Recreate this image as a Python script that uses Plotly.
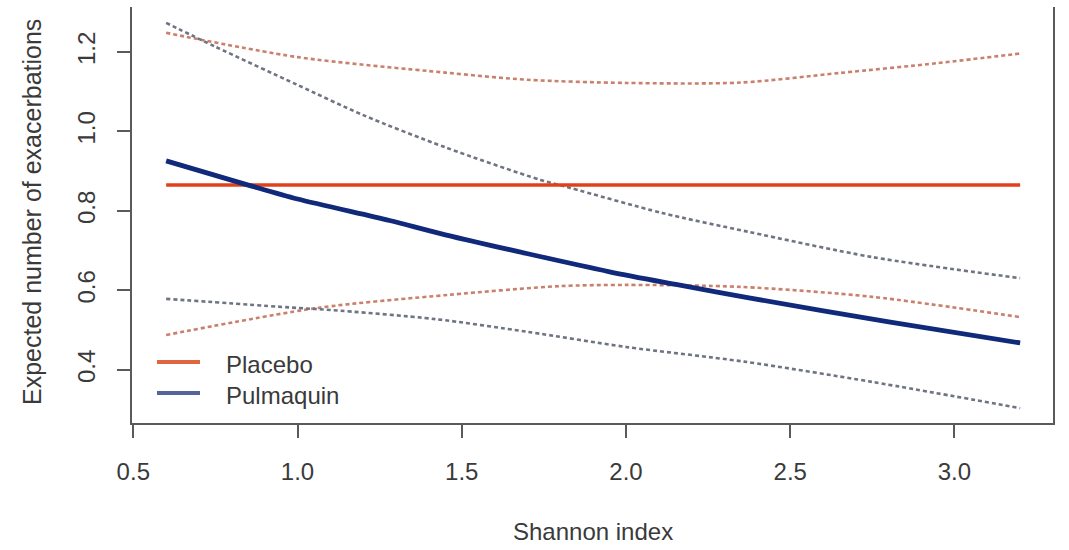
import plotly.graph_objects as go

# Fitted expected exacerbations vs Shannon diversity index, with confidence bands
placebo_x = [0.6, 3.2]
placebo_fit = [0.865, 0.865]

placebo_upper_x = [0.6, 1.0, 1.45, 1.7, 2.0, 2.35, 2.65, 2.95, 3.2]
placebo_upper = [1.248, 1.187, 1.148, 1.13, 1.122, 1.123, 1.147, 1.172, 1.196]

placebo_lower_x = [0.6, 1.06, 1.46, 1.8, 2.0, 2.35, 2.75, 3.2]
placebo_lower = [0.488, 0.556, 0.589, 0.611, 0.614, 0.609, 0.584, 0.533]

pulmaquin_x = [0.6, 0.85, 1.0, 1.28, 1.45, 1.95, 2.16, 2.37, 2.8, 3.2]
pulmaquin_fit = [0.926, 0.865, 0.83, 0.776, 0.74, 0.647, 0.614, 0.582, 0.521, 0.468]

pulmaquin_upper_x = [0.6, 0.75, 1.0, 1.2, 1.45, 1.74, 1.83, 2.11, 2.37, 2.75, 3.2]
pulmaquin_upper = [1.273, 1.213, 1.117, 1.041, 0.96, 0.878, 0.858, 0.795, 0.748, 0.684, 0.631]

pulmaquin_lower_x = [0.6, 1.0, 1.1, 1.42, 1.7, 2.0, 2.36, 2.75, 3.2]
pulmaquin_lower = [0.579, 0.556, 0.551, 0.528, 0.496, 0.458, 0.421, 0.37, 0.304]

x_ticks = [0.5, 1.0, 1.5, 2.0, 2.5, 3.0]
y_ticks = [0.4, 0.6, 0.8, 1.0, 1.2]

FONT = "Liberation Sans, Arial, sans-serif"
TEXT = "#3a3a3a"
AXIS = "#5a5a5a"
RED = "#E2401C"
NAVY = "#10297A"
RED_DASH = "#C9806C"
GRAY_DASH = "#6E7482"

fig = go.Figure()

def dashed(x, y, color):
    fig.add_trace(go.Scatter(
        x=x, y=y, mode="lines", showlegend=False, hoverinfo="skip",
        line=dict(color=color, width=2.6, dash="4px,3px", shape="spline", smoothing=0.8),
    ))

dashed(placebo_upper_x, placebo_upper, RED_DASH)
dashed(placebo_lower_x, placebo_lower, RED_DASH)
dashed(pulmaquin_upper_x, pulmaquin_upper, GRAY_DASH)
dashed(pulmaquin_lower_x, pulmaquin_lower, GRAY_DASH)

fig.add_trace(go.Scatter(
    x=placebo_x, y=placebo_fit, mode="lines", name="Placebo", showlegend=False,
    line=dict(color=RED, width=3.5),
))
fig.add_trace(go.Scatter(
    x=pulmaquin_x, y=pulmaquin_fit, mode="lines", name="Pulmaquin", showlegend=False,
    line=dict(color=NAVY, width=4.8, shape="spline", smoothing=0.8),
))

L, R, T, B = 132, 16, 7, 127
W, H = 1069, 550
pw, ph = W - L - R, H - T - B

def px(xp):
    return (xp - L) / pw

def py(yp):
    return (H - B - yp) / ph

# Legend drawn in the lower-left corner
legend_items = [("Placebo", "#E0663F", 362), ("Pulmaquin", "#55659C", 393)]
for label, color, yp in legend_items:
    fig.add_shape(type="line", xref="paper", yref="paper",
                  x0=px(157), x1=px(200), y0=py(yp), y1=py(yp),
                  line=dict(color=color, width=4))
    fig.add_annotation(text=label, xref="paper", yref="paper",
                       x=px(224), y=py(yp + 2), xanchor="left", yanchor="middle",
                       showarrow=False, font=dict(family=FONT, size=24, color=TEXT))

# Axis titles
fig.add_annotation(text="Shannon index", xref="paper", yref="paper",
                   x=px(593), y=py(531), xanchor="center", yanchor="middle",
                   showarrow=False, font=dict(family=FONT, size=24, color=TEXT))
fig.add_annotation(text="Expected number of exacerbations", xref="paper", yref="paper",
                   x=px(32), y=py(212), xanchor="center", yanchor="middle", textangle=-90,
                   showarrow=False, font=dict(family=FONT, size=25, color=TEXT))

fig.update_layout(
    width=W, height=H,
    margin=dict(l=L, r=R, t=T, b=B),
    paper_bgcolor="white", plot_bgcolor="white",
    font=dict(family=FONT, size=24, color=TEXT),
    xaxis=dict(range=[0.496, 3.30], tickvals=x_ticks, ticktext=[f"{v:.1f}" for v in x_ticks],
               showgrid=False, zeroline=False, showline=True, linecolor=AXIS, linewidth=2,
               ticks="outside", ticklen=13, tickwidth=2, tickcolor=AXIS,
               ticklabelstandoff=13, tickfont=dict(size=24, color=TEXT)),
    yaxis=dict(range=[0.2667, 1.313], tickvals=y_ticks, ticktext=[f"{v:.1f}" for v in y_ticks],
               showgrid=False, zeroline=False, showline=True, linecolor=AXIS, linewidth=2,
               mirror=True, ticks="outside", ticklen=13, tickwidth=2, tickcolor=AXIS,
               tickangle=-90, ticklabelstandoff=12, tickfont=dict(size=24, color=TEXT)),
)

fig.write_html("out.html")
